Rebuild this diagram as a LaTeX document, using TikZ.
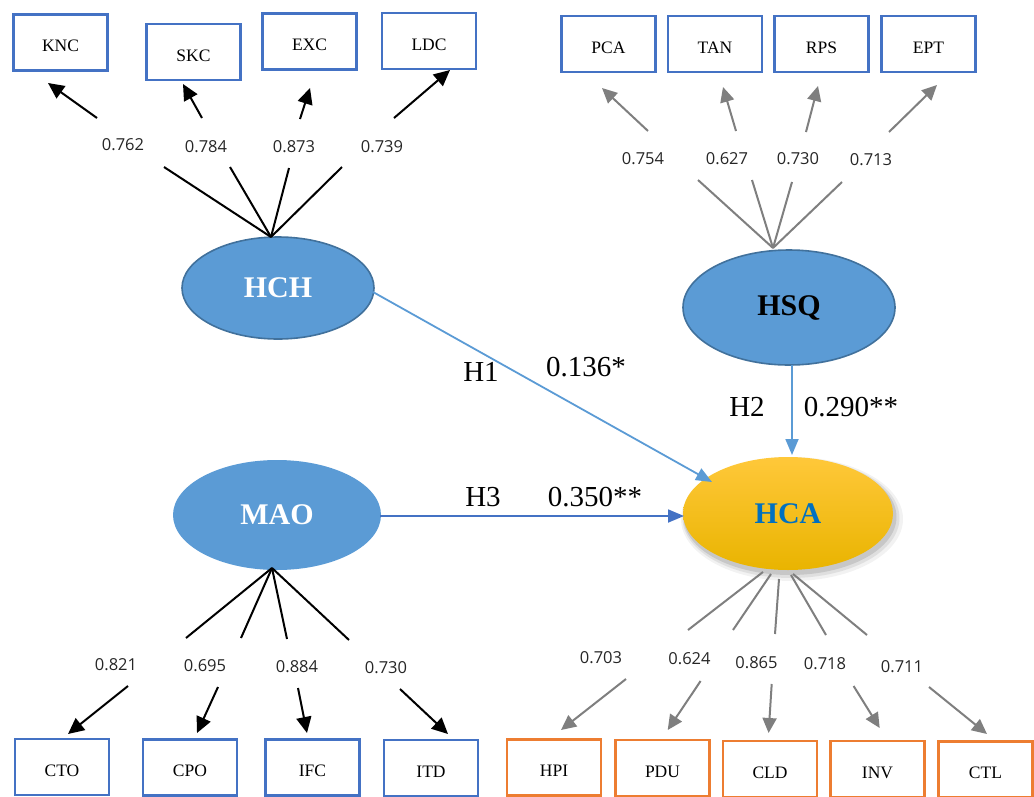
\documentclass[tikz,border=0pt]{standalone}
\usepackage{fontspec}
\setmainfont{Liberation Serif}
\newfontfamily\numfont{Open Sans}
\usetikzlibrary{arrows.meta,shapes.geometric}
\definecolor{boxblue}{HTML}{4472C4}
\definecolor{boxorange}{HTML}{ED7D31}
\definecolor{ellblue}{HTML}{5B9BD5}
\definecolor{ellborder}{HTML}{41719C}
\definecolor{linegray}{HTML}{7F7F7F}
\definecolor{hcablue}{HTML}{0070C0}
\definecolor{goldtop}{HTML}{FFC83A}
\definecolor{goldmid}{HTML}{FFC000}
\definecolor{goldbot}{HTML}{E9B400}
\tikzset{
 ind/.style={rectangle, draw=boxblue, line width=2.6pt, fill=white, minimum width=94pt, minimum height=56pt, inner sep=0pt, text height=18.5pt, text depth=0pt, font=\fontsize{17.5}{21}\selectfont},
 indo/.style={ind, draw=boxorange},
 lv/.style={ellipse, fill=ellblue, draw=ellborder, line width=1.6pt, inner sep=0pt, font=\bfseries\fontsize{30}{36}\selectfont, text=white},
 ld/.style={font=\numfont\fontsize{16.5}{20}\selectfont, text=black!85, inner sep=0pt},
 blk/.style={line width=2pt, black},
 blkarr/.style={blk, -{Triangle[length=16pt,width=15pt]}},
 gry/.style={line width=2pt, linegray},
 gryarr/.style={gry, -{Triangle[length=15pt,width=14pt]}},
 hpath/.style={line width=1.8pt, ellblue, -{Triangle[length=16pt,width=13pt]}},
 hyp/.style={font=\fontsize{29}{34}\selectfont, inner sep=0pt},
}
\begin{document}
\begin{tikzpicture}[x=1pt,y=-1pt]
\useasboundingbox (0,0) rectangle (1034,796);
% indicator boxes
\node[ind] (KNC) at (60.5,42.5) {KNC};
\node[ind] (SKC) at (193.5,52) {SKC};
\node[ind] (EXC) at (309.5,41.5) {EXC};
\node[ind] (LDC) at (429,41) {LDC};
\node[ind] (PCA) at (608.5,44) {PCA};
\node[ind] (TAN) at (715,44) {TAN};
\node[ind] (RPS) at (821.5,44) {RPS};
\node[ind] (EPT) at (928.5,44) {EPT};
\node[ind] (CTO) at (62,767) {CTO};
\node[ind] (CPO) at (190,767.5) {CPO};
\node[ind] (IFC) at (312.5,767.5) {IFC};
\node[ind] (ITD) at (431,768) {ITD};
\node[indo] (HPI) at (554,767.5) {HPI};
\node[indo] (PDU) at (662.5,768) {PDU};
\node[indo] (CLD) at (770,769) {CLD};
\node[indo] (INV) at (877.5,769) {INV};
\node[indo] (CTL) at (985.5,769.5) {CTL};
% latent variables
\node[lv, minimum width=192pt, minimum height=102pt] (HCH) at (278,288) {HCH};
\node[lv, minimum width=212pt, minimum height=115pt, text=black] (HSQ) at (789,307.5) {HSQ};
\node[lv, draw=none, minimum width=208pt, minimum height=110pt] (MAO) at (277,515) {MAO};
\fill[black,opacity=0.05] (792,519) ellipse [x radius=111pt, y radius=62pt];
\fill[black,opacity=0.08] (791,518) ellipse [x radius=108.5pt, y radius=60pt];
\fill[black,opacity=0.11] (790,517) ellipse [x radius=106.5pt, y radius=58pt];
\node[ellipse, inner sep=0pt, minimum width=210pt, minimum height=113pt, top color=goldtop, middle color=goldmid, bottom color=goldbot, text=hcablue, font=\bfseries\fontsize{30}{36}\selectfont] (HCA) at (788,513.5) {HCA};
% loading labels
\node[ld] (l1) at (123,145) {0.762};
\node[ld] (l2) at (206,147) {0.784};
\node[ld] (l3) at (294,147) {0.873};
\node[ld] (l4) at (382,147) {0.739};
\node[ld] (l5) at (643,159) {0.754};
\node[ld] (l6) at (727,159) {0.627};
\node[ld] (l7) at (798,159) {0.730};
\node[ld] (l8) at (871,160) {0.713};
\node[ld] (l9) at (116,665) {0.821};
\node[ld] (l10) at (205,666) {0.695};
\node[ld] (l11) at (297,667) {0.884};
\node[ld] (l12) at (386,668) {0.730};
\node[ld] (l13) at (601,658) {0.703};
\node[ld] (l14) at (689.5,659) {0.624};
\node[ld] (l15) at (756.5,663) {0.865};
\node[ld] (l16) at (825,664) {0.718};
\node[ld] (l17) at (902,667) {0.711};
% HCH loadings
\coordinate (hchc) at (271,237);
\coordinate (a1) at (164,167); \coordinate (a2) at (230,167);
\coordinate (a3) at (289,168); \coordinate (a4) at (342,167);
\coordinate (b1) at (97,118); \coordinate (t1) at (48,83);
\coordinate (b2) at (202,118); \coordinate (t2) at (183,84);
\coordinate (b3) at (300,119); \coordinate (t3) at (310,88);
\coordinate (b4) at (394,118); \coordinate (t4) at (450,70);
\foreach \i in {1,2,3,4} {\draw[blk] (hchc) -- (a\i); \draw[blkarr] (b\i) -- (t\i);}
% HSQ loadings
\coordinate (hsqc) at (773,248);
\coordinate (c1) at (698,180); \coordinate (c2) at (752,180);
\coordinate (c3) at (792,182); \coordinate (c4) at (842,182);
\coordinate (d1) at (648,131); \coordinate (u1) at (602,88);
\coordinate (d2) at (736,131); \coordinate (u2) at (723,87);
\coordinate (d3) at (806,132); \coordinate (u3) at (818,86);
\coordinate (d4) at (889,132); \coordinate (u4) at (937,85);
\foreach \i in {1,2,3,4} {\draw[gry] (hsqc) -- (c\i); \draw[gryarr] (d\i) -- (u\i);}
% MAO loadings
\coordinate (maoc) at (272,568);
\coordinate (e1) at (186,638); \coordinate (e2) at (241,638);
\coordinate (e3) at (287,639); \coordinate (e4) at (349,640);
\coordinate (f1) at (128,686); \coordinate (v1) at (68,734);
\coordinate (f2) at (218,687); \coordinate (v2) at (197,733);
\coordinate (f3) at (298,688); \coordinate (v3) at (307,733);
\coordinate (f4) at (400,689); \coordinate (v4) at (448,734);
\foreach \i in {1,2,3,4} {\draw[blk] (maoc) -- (e\i); \draw[blkarr] (f\i) -- (v\i);}
% HCA loadings
\coordinate (s1) at (763,572); \coordinate (g1) at (688,630);
\coordinate (s2) at (771,574); \coordinate (g2) at (733,630);
\coordinate (s3) at (779,579); \coordinate (g3) at (775,634);
\coordinate (s4) at (791,575); \coordinate (g4) at (826,635);
\coordinate (s5) at (793,574); \coordinate (g5) at (867,635);
\coordinate (h1) at (626,679); \coordinate (w1) at (561,730);
\coordinate (h2) at (700.6,681); \coordinate (w2) at (667.7,730);
\coordinate (h3) at (771.7,684); \coordinate (w3) at (768.6,733);
\coordinate (h4) at (853.6,686); \coordinate (w4) at (879.7,728);
\coordinate (h5) at (929,687); \coordinate (w5) at (987,734);
\foreach \i in {1,2,3,4,5} {\draw[gry] (s\i) -- (g\i); \draw[gryarr] (h\i) -- (w\i);}
% structural paths
\coordinate (p1s) at (373,292); \coordinate (p1e) at (712,482);
\draw[hpath] (p1s) -- (p1e);
\coordinate (p2s) at (792,365); \coordinate (p2e) at (792,455);
\draw[hpath] (p2s) -- (p2e);
\coordinate (p3s) at (380,516); \coordinate (p3e) at (684,516);
\draw[hpath, boxblue] (p3s) -- (p3e);
\node[hyp] (H1) at (481,372) {H1};
\node[hyp] (b136) at (586,367) {0.136*};
\node[hyp] (H2) at (747,407) {H2};
\node[hyp] (b290) at (851,407) {0.290**};
\node[hyp] (H3) at (483,497) {H3};
\node[hyp] (b350) at (595,497) {0.350**};
\end{tikzpicture}
\end{document}
